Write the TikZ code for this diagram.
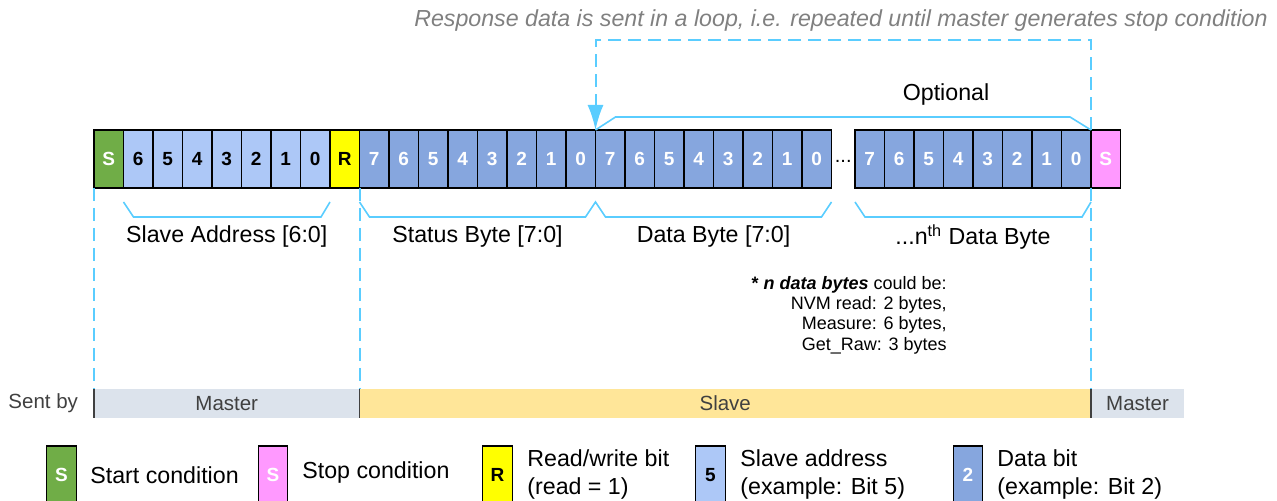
\documentclass[tikz,border=0pt]{standalone}
\usepackage{fontspec}
\setmainfont{Liberation Sans}
\usetikzlibrary{calc,arrows.meta}
\definecolor{startgreen}{RGB}{112,173,71}
\definecolor{stoppink}{RGB}{255,153,255}
\definecolor{rwyellow}{RGB}{255,255,0}
\definecolor{addrblue}{RGB}{173,200,247}
\definecolor{datablue}{RGB}{134,166,222}
\definecolor{loopcyan}{RGB}{90,205,255}
\definecolor{masterbg}{RGB}{220,227,236}
\definecolor{slavebg}{RGB}{255,230,153}
\definecolor{bargray}{RGB}{64,64,64}
\definecolor{notegray}{RGB}{128,128,128}
\def\bitw{29.5}
\tikzset{
	bitbox/.style={draw=black, line width=0.7pt, minimum width=14.75pt, minimum height=29pt, inner sep=0pt, outer sep=0pt, font=\fontsize{9.5}{10}\selectfont\bfseries},
	startbit/.style={bitbox, fill=startgreen, text=white},
	stopbit/.style={bitbox, fill=stoppink, text=white},
	rwbit/.style={bitbox, fill=rwyellow, text=black},
	addrbit/.style={bitbox, fill=addrblue, text=black},
	databit/.style={bitbox, fill=datablue, text=white},
	brace/.style={draw=loopcyan, line width=0.8pt},
	guide/.style={draw=loopcyan, line width=1pt, dash pattern=on 6.5pt off 3.5pt},
	bytelabel/.style={font=\fontsize{11.6}{14}\selectfont, inner sep=0pt},
	legtext/.style={font=\fontsize{11.6}{14}\selectfont, align=left, anchor=west, inner sep=0pt},
	sentbar/.style={minimum height=14.5pt, inner sep=0pt, outer sep=0pt, text=bargray, font=\fontsize{10.25}{12}\selectfont},
	tick/.style={draw=bargray, line width=0.7pt}
}

\begin{document}
\begin{tikzpicture}[x=0.5pt, y=-0.5pt]
		%%%%% START %%%%%
		\useasboundingbox (0,0) rectangle (1277,501);
		
		\node[font=\fontsize{11.6}{13}\selectfont\itshape, text=notegray, anchor=east, inner sep=0pt] (loopnote) at (1268,21) {Response data is sent in a loop, i.e. repeated until master generates stop condition};
		
		% bits
		\node[startbit] (st) at (108.75,159) {S};
		\foreach \b [count=\i from 0] in {6,5,4,3,2,1,0}
			\node[addrbit] (a\b) at ({138.25+\i*\bitw},159) {\b};
		\node[rwbit] (rw) at (344.75,159) {R};
		\foreach \b [count=\i from 0] in {7,6,5,4,3,2,1,0}
			\node[databit] (s\b) at ({374.25+\i*\bitw},159) {\b};
		\foreach \b [count=\i from 0] in {7,6,5,4,3,2,1,0}
			\node[databit] (d\b) at ({610.25+\i*\bitw},159) {\b};
		\node[font=\fontsize{10}{12}\selectfont, inner sep=0pt] (gap) at (843.25,161) {...};
		\foreach \b [count=\i from 0] in {7,6,5,4,3,2,1,0}
			\node[databit] (n\b) at ({869.75+\i*\bitw},159) {\b};
		\node[stopbit] (sp) at (1105.75,159) {S};
		
		% optional bracket and loop
		\node[bytelabel] (opt) at (946,95) {Optional};
		\draw[brace] (d7.north west) -- ++(20,-13) -- ($(n0.north east)+(-21,-13)$) -- (n0.north east);
		\draw[guide, -{Latex[length=12.5pt,width=8pt]}] (n0.north east) -- ++(0,-90) -| (d7.north west);
		
		% byte brackets
		\draw[brace] ($(a6.south west)+(0,14)$) -- ++(10,15) -- ($(a0.south east)+(-9,29)$) -- ++(9,-15);
		\draw[brace] ($(s7.south west)+(0,14)$) -- ++(10,15) -- ($(s0.south east)+(-10,29)$) -- ++(10,-15) -- ++(10,15) -- ($(d0.south east)+(-10,29)$) -- ++(10,-15);
		\draw[brace] ($(n7.south west)+(0,14)$) -- ++(10,15) -- ($(n0.south east)+(-9,29)$) -- ++(9,-15);
		\node[bytelabel] (laddr) at ($(a6.south)!0.5!(a0.south)+(0,49)$) {Slave Address [6:0]};
		\node[bytelabel] (lstat) at ($(s7.south)!0.5!(s0.south)+(0,49)$) {Status Byte [7:0]};
		\node[bytelabel] (ldata) at ($(d7.south)!0.5!(d0.south)+(0,49)$) {Data Byte [7:0]};
		\node[bytelabel] (lnth) at ($(n7.south)!0.5!(n0.south)+(0,49)$) {...n\textsuperscript{th} Data Byte};
		
		\node[font=\fontsize{9}{10.2}\selectfont, align=right, anchor=east, inner sep=0pt] (nbytes) at (947,315) {{\bfseries * \itshape n data bytes} could be:\\NVM read: 2 bytes,\\Measure: 6 bytes,\\Get\_Raw: 3 bytes};
		
		% sent by
		\node[sentbar, fill=masterbg, minimum width=132.75pt] (m1) at (226.75,403.5) {Master};
		\node[sentbar, fill=slavebg, minimum width=365.75pt] (sl) at (725.25,403.5) {Slave};
		\node[sentbar, fill=masterbg, minimum width=46.5pt] (m2) at (1137.5,403.5) {Master};
		\node[sentbar, anchor=east] (sentby) at (78,403.5) {Sent by};
		\draw[tick] (m1.north west) -- (m1.south west);
		\draw[tick] (sl.north west) -- (sl.south west);
		\draw[tick] (m2.north west) -- (m2.south west);
		\draw[guide] (st.south west) -- (m1.north west);
		\draw[guide] (rw.south east) -- (sl.north west);
		\draw[guide] (sp.south west) -- (m2.north west);
		
		% legend
		\node[startbit] (lgst) at (61.5,475) {S};
		\node[legtext] (lgsttxt) at (90,475) {Start condition};
		\node[stopbit] (lgsp) at (273,475) {S};
		\node[legtext] (lgsptxt) at (302,473) {Stop condition};
		\node[rwbit] (lgrw) at (497.5,475) {R};
		\node[legtext] (lgrwtxt) at (527,474) {Read/write bit\\(read = 1)};
		\node[addrbit] (lgad) at (710.5,475) {5};
		\node[legtext] (lgadtxt) at (740,474) {Slave address\\(example: Bit 5)};
		\node[databit] (lgda) at (968,475) {2};
		\node[legtext] (lgdatxt) at (997,474) {Data bit\\(example: Bit 2)};
		
		%%%%% END %%%%%
	\end{tikzpicture}
\end{document}
